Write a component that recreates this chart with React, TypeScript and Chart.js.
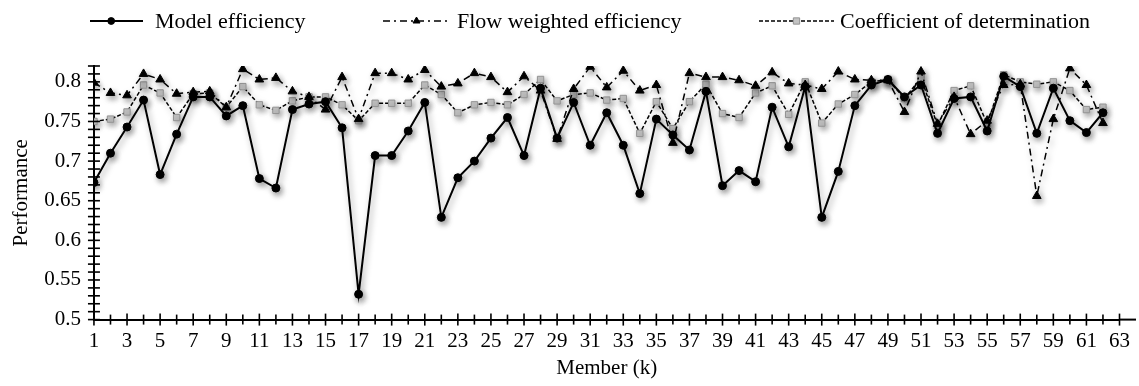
import React, { useEffect, useRef } from "react";
import { Chart, registerables } from "chart.js";

Chart.register(...registerables);

const members = [
  1, 2, 3, 4, 5, 6, 7, 8, 9, 10, 11, 12, 13, 14, 15, 16, 17, 18, 19, 20, 21,
  22, 23, 24, 25, 26, 27, 28, 29, 30, 31, 32, 33, 34, 35, 36, 37, 38, 39, 40,
  41, 42, 43, 44, 45, 46, 47, 48, 49, 50, 51, 52, 53, 54, 55, 56, 57, 58, 59,
  60, 61, 62,
];

const modelEfficiency = [
  0.673, 0.71, 0.743, 0.777, 0.683, 0.734, 0.781, 0.781, 0.757, 0.77, 0.678,
  0.666, 0.765, 0.772, 0.775, 0.742, 0.532, 0.707, 0.707, 0.738, 0.774, 0.629,
  0.679, 0.7, 0.729, 0.755, 0.707, 0.792, 0.729, 0.774, 0.72, 0.761, 0.72,
  0.659, 0.753, 0.733, 0.714, 0.788, 0.669, 0.688, 0.674, 0.768, 0.718, 0.794,
  0.629, 0.687, 0.77, 0.796, 0.803, 0.781, 0.796, 0.735, 0.779, 0.781, 0.738,
  0.807, 0.794, 0.735, 0.792, 0.751, 0.736, 0.761,
];

const flowWeightedEfficiency = [
  0.799, 0.786, 0.783, 0.81, 0.803, 0.785, 0.787, 0.788, 0.768, 0.816, 0.803,
  0.805, 0.788, 0.781, 0.765, 0.806, 0.753, 0.811, 0.811, 0.803, 0.815, 0.794,
  0.798, 0.811, 0.806, 0.787, 0.807, 0.789, 0.728, 0.791, 0.819, 0.793, 0.814,
  0.789, 0.796, 0.723, 0.811, 0.806, 0.806, 0.802, 0.795, 0.812, 0.798, 0.796,
  0.791, 0.813, 0.803, 0.802, 0.802, 0.762, 0.813, 0.747, 0.781, 0.734, 0.751,
  0.796, 0.797, 0.656, 0.753, 0.817, 0.796, 0.748,
];

const coefficientOfDetermination = [
  0.75, 0.753, 0.762, 0.796, 0.786, 0.755, 0.785, 0.786, 0.768, 0.794, 0.771,
  0.764, 0.776, 0.781, 0.781, 0.771, 0.751, 0.773, 0.773, 0.773, 0.796, 0.784,
  0.761, 0.771, 0.774, 0.771, 0.784, 0.803, 0.776, 0.784, 0.786, 0.777, 0.779,
  0.735, 0.775, 0.741, 0.775, 0.797, 0.76, 0.755, 0.786, 0.795, 0.759, 0.8,
  0.748, 0.772, 0.784, 0.8, 0.803, 0.779, 0.805, 0.745, 0.789, 0.795, 0.747,
  0.809, 0.8, 0.797, 0.8, 0.789, 0.765, 0.768,
];

const seriesNames = [
  "Model efficiency",
  "Flow weighted efficiency",
  "Coefficient of determination",
];

const xTickLabels = [
  "1", "3", "5", "7", "9", "11", "13", "15", "17", "19", "21", "23", "25",
  "27", "29", "31", "33", "35", "37", "39", "41", "43", "45", "47", "49", "51",
  "53", "55", "57", "59", "61", "63",
];

const yTickLabels = ["0.5", "0.55", "0.6", "0.65", "0.7", "0.75", "0.8"];

const FONT = '"Liberation Serif", "Times New Roman", serif';

const toPoints = (vals: number[]) => vals.map((v, i) => ({ x: members[i], y: v }));

const shadowPlugin = {
  id: "markShadow",
  beforeDatasetsDraw(chart: any) {
    const c = chart.ctx;
    c.save();
    c.shadowColor = "rgba(0,0,0,0.4)";
    c.shadowBlur = 6;
    c.shadowOffsetX = 2;
    c.shadowOffsetY = 3;
  },
  afterDatasetsDraw(chart: any) {
    chart.ctx.restore();
  },
};

const crossTicksPlugin = {
  id: "crossTicks",
  afterDraw(chart: any) {
    const c = chart.ctx;
    const xs = chart.scales.x;
    const ys = chart.scales.y;
    const axisY = xs.top;
    const axisX = ys.right;
    c.save();
    c.strokeStyle = "#000";
    c.lineWidth = 2;
    // continuation of the x axis past its last tick, as in the original
    c.beginPath();
    c.moveTo(xs.right, axisY);
    c.lineTo(chart.width - 3, axisY);
    c.stroke();
    c.lineWidth = 1.6;
    xs.ticks.forEach((t: any) => {
      if (!Number.isInteger(t.value)) return;
      const px = xs.getPixelForValue(t.value);
      const len = t.value % 2 === 1 ? 6 : 5;
      c.beginPath();
      c.moveTo(px, axisY - len);
      c.lineTo(px, axisY + len);
      c.stroke();
    });
    ys.ticks.forEach((t: any) => {
      const py = ys.getPixelForValue(t.value);
      c.beginPath();
      c.moveTo(axisX - 6, py);
      c.lineTo(axisX + 6, py);
      c.stroke();
    });
    c.restore();
  },
};

const legendSlots = [
  { x: 90, w: 53, m: 0.4, tx: 155 },
  { x: 383, w: 67, m: 0.5, tx: 457 },
  { x: 759, w: 75, m: 0.5, tx: 840 },
];

const legendPlugin = {
  id: "lineLegend",
  afterDraw(chart: any) {
    const c = chart.ctx;
    const ly = 21;
    chart.data.datasets.forEach((ds: any, i: number) => {
      const s = legendSlots[i];
      c.save();
      c.strokeStyle = ds.borderColor;
      c.lineWidth = ds.borderWidth;
      c.setLineDash(ds.borderDash || []);
      c.beginPath();
      c.moveTo(s.x, ly);
      c.lineTo(s.x + s.w, ly);
      c.stroke();
      c.setLineDash([]);
      const cx = s.x + s.w * s.m;
      const r = ds.pointRadius;
      c.fillStyle = ds.pointBackgroundColor;
      c.strokeStyle = ds.pointBorderColor;
      c.lineWidth = 1;
      c.beginPath();
      if (ds.pointStyle === "circle") {
        c.arc(cx, ly, r * 0.85, 0, Math.PI * 2);
      } else if (ds.pointStyle === "triangle") {
        c.moveTo(cx, ly - r * 0.8);
        c.lineTo(cx + r * 0.7, ly + r * 0.4);
        c.lineTo(cx - r * 0.7, ly + r * 0.4);
        c.closePath();
      } else {
        c.rect(cx - r * 0.7, ly - r * 0.7, r * 1.4, r * 1.4);
      }
      c.fill();
      c.stroke();
      c.fillStyle = "#000";
      c.font = `22px ${FONT}`;
      c.textBaseline = "middle";
      c.textAlign = "left";
      c.fillText(ds.label, s.tx, ly + 1);
      c.restore();
    });
  },
};

export default function App() {
  const ref = useRef<HTMLCanvasElement>(null);

  useEffect(() => {
    const canvas = ref.current;
    if (!canvas) return;
    const chart = new Chart(canvas, {
      type: "line",
      data: {
        datasets: [
          {
            label: seriesNames[0],
            data: toPoints(modelEfficiency),
            borderColor: "#000",
            borderWidth: 2,
            pointStyle: "circle",
            pointRadius: 4,
            pointBackgroundColor: "#000",
            pointBorderColor: "#000",
            pointBorderWidth: 1,
            tension: 0,
          } as any,
          {
            label: seriesNames[1],
            data: toPoints(flowWeightedEfficiency),
            borderColor: "#000",
            borderWidth: 1.5,
            borderDash: [7, 4, 2, 4],
            pointStyle: "triangle",
            pointRadius: 5,
            pointBackgroundColor: "#000",
            pointBorderColor: "#000",
            pointBorderWidth: 1,
            tension: 0,
          } as any,
          {
            label: seriesNames[2],
            data: toPoints(coefficientOfDetermination),
            borderColor: "#000",
            borderWidth: 1.5,
            borderDash: [4, 2],
            pointStyle: "rect",
            pointRadius: 4.5,
            pointBackgroundColor: "#c4c4c4",
            pointBorderColor: "#939393",
            pointBorderWidth: 1,
            tension: 0,
          } as any,
        ],
      },
      options: {
        responsive: false,
        animation: false,
        events: [],
        layout: { padding: { top: 66, right: 11, bottom: 3, left: 6 } },
        plugins: {
          legend: { display: false },
          tooltip: { enabled: false },
        },
        scales: {
          x: {
            type: "linear",
            min: 1,
            max: 63,
            grid: { display: false, drawTicks: false },
            border: { display: true, color: "#000", width: 2 },
            ticks: {
              stepSize: 1,
              autoSkip: false,
              maxRotation: 0,
              minRotation: 0,
              padding: 9,
              color: "#000",
              font: { family: FONT, size: 21 },
              callback: (v: any) => {
                const s = String(v);
                return xTickLabels.includes(s) ? s : "";
              },
            },
            title: {
              display: true,
              text: "Member (k)",
              color: "#000",
              font: { family: FONT, size: 21 },
              padding: { top: -7, bottom: 2 },
            },
          },
          y: {
            type: "linear",
            min: 0.5,
            max: 0.82,
            grid: { display: false, drawTicks: false },
            border: { display: true, color: "#000", width: 2 },
            ticks: {
              stepSize: 0.01,
              autoSkip: false,
              padding: 13,
              color: "#000",
              font: { family: FONT, size: 21 },
              callback: (v: any) => {
                const n = Number(v);
                const hit = yTickLabels.find((l) => Math.abs(Number(l) - n) < 1e-6);
                return hit ?? "";
              },
            },
            title: {
              display: true,
              text: "Performance",
              color: "#000",
              font: { family: FONT, size: 21 },
              padding: { top: 3, bottom: -3 },
            },
          },
        },
      },
      plugins: [shadowPlugin, crossTicksPlugin, legendPlugin],
    });
    return () => chart.destroy();
  }, []);

  return (
    <div
      style={{
        position: "fixed",
        left: 0,
        top: 0,
        width: 1139,
        height: 386,
        background: "#fff",
      }}
    >
      <canvas ref={ref} width={1139} height={386} style={{ display: "block" }} />
    </div>
  );
}
